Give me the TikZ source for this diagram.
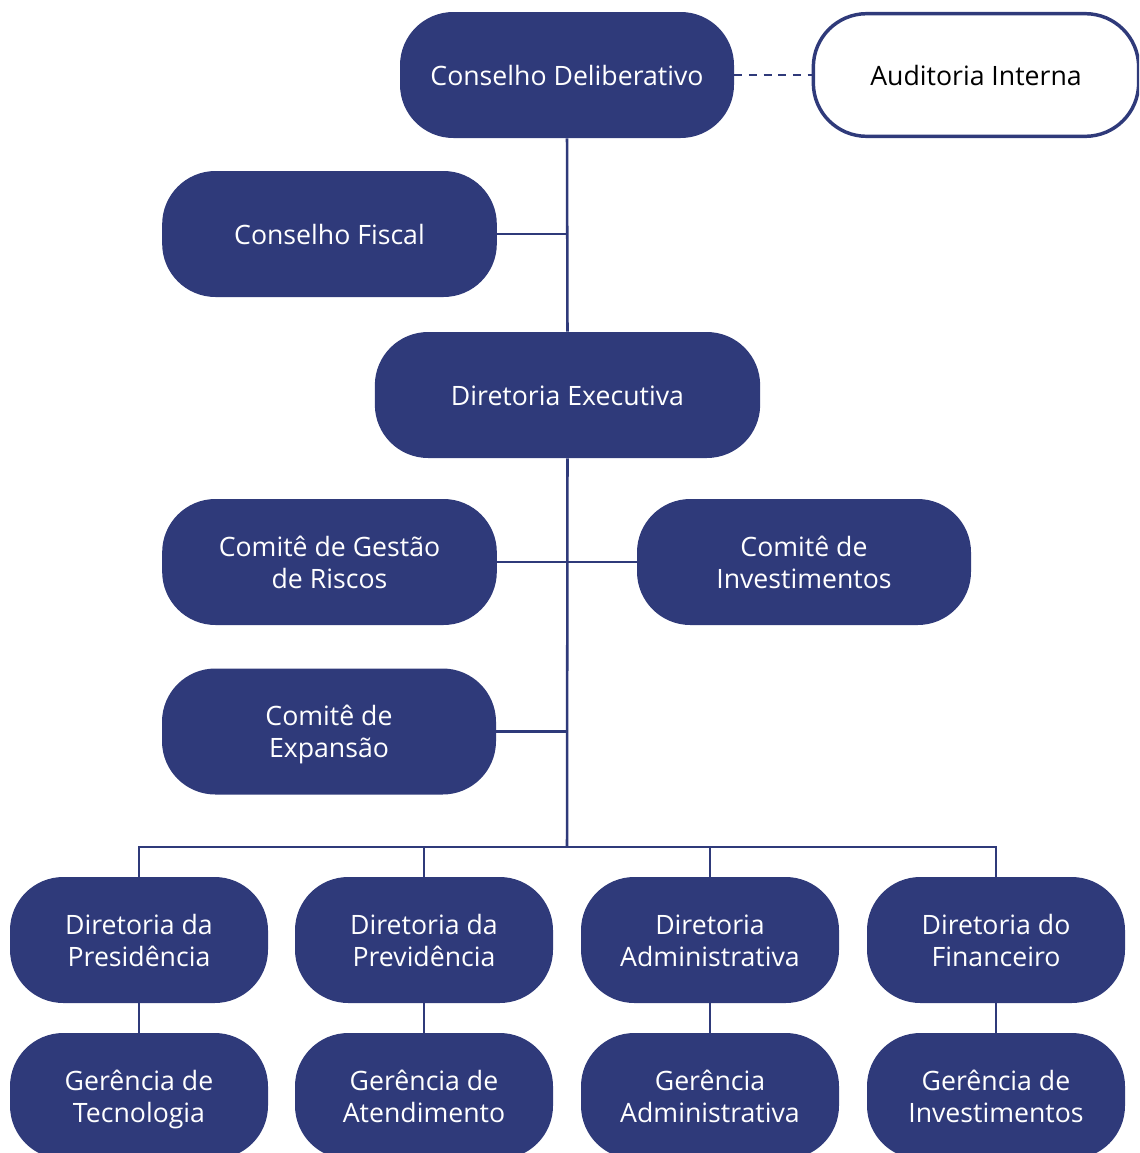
\documentclass[tikz,border=0pt]{standalone}
\usepackage{fontspec}
\setmainfont{Open Sans}
\definecolor{navy}{HTML}{2F3A7A}
\tikzset{
  boxtext/.style={font=\fontsize{20}{24}\selectfont,
    execute at begin node=\rule{0pt}{22.8pt}, execute at end node=\strut},
  twoline/.style={execute at begin node=\rule{0pt}{46.8pt}},
  orgbox/.style={boxtext, rounded corners=40pt, fill=navy, text=white, align=center,
    minimum height=94.5pt, inner sep=0pt},
  outlinebox/.style={boxtext, rounded corners=40pt, draw=navy, line width=2.6pt, fill=white,
    text=black, align=center, minimum height=92pt, inner sep=0pt},
  link/.style={draw=navy, line width=1.9pt},
  dottedlink/.style={draw=navy, line width=1.9pt, dash pattern=on 6pt off 5pt}
}
\begin{document}
\begin{tikzpicture}[x=0.75pt, y=-0.75pt]
  \clip (0,0) rectangle (1139,1153);
  \useasboundingbox (0,0) rectangle (1139,1153);

  % governance
  \node[orgbox, minimum width=250.5pt] (cd) at (567,75) {Conselho Deliberativo};
  \node[outlinebox, minimum width=244pt] (ai) at (976,75) {Auditoria Interna};
  \node[orgbox, minimum width=251pt] (cf) at (329.5,234) {Conselho Fiscal};
  \node[orgbox, minimum width=289pt] (de) at (567.5,395) {Diretoria Executiva};

  % committees
  \node[orgbox, twoline, minimum width=251pt] (cg) at (329.5,562) {Comitê de Gestão\\de Riscos};
  \node[orgbox, twoline, minimum width=250.5pt] (ci) at (804,562) {Comitê de\\Investimentos};
  \node[orgbox, twoline, minimum width=250.5pt] (ce) at (329,731.5) {Comitê de\\Expansão};

  % directorates
  \node[orgbox, twoline, minimum width=193.5pt] (d1) at (139,940) {Diretoria da\\Presidência};
  \node[orgbox, twoline, minimum width=193.5pt] (d2) at (424,940) {Diretoria da\\Previdência};
  \node[orgbox, twoline, minimum width=193.5pt] (d3) at (710,940) {Diretoria\\Administrativa};
  \node[orgbox, twoline, minimum width=193.5pt] (d4) at (996,940) {Diretoria do\\Financeiro};

  % managements
  \node[orgbox, twoline, minimum width=193.5pt] (g1) at (139,1096) {Gerência de\\Tecnologia};
  \node[orgbox, twoline, minimum width=193.5pt] (g2) at (424,1096) {Gerência de\\Atendimento};
  \node[orgbox, twoline, minimum width=193.5pt] (g3) at (710,1096) {Gerência\\Administrativa};
  \node[orgbox, twoline, minimum width=193.5pt] (g4) at (996,1096) {Gerência de\\Investimentos};

  % connectors
  \coordinate (bus) at (567,847);
  \draw[dottedlink] (cd.east) -- (ai.west);
  \draw[link] (cd.south) -- (de.north);
  \draw[link] (cf.east) -- (cf.east -| cd.south);
  \draw[link] (de.south) -- (bus);
  \draw[link] (cg.east) -- (ci.west);
  \draw[link] (ce.east) -- (ce.east -| de.south);
  \draw[link] (d1.north) |- (d4.north |- bus) -- (d4.north);
  \draw[link] (d2.north) -- (d2.north |- bus);
  \draw[link] (d3.north) -- (d3.north |- bus);
  \foreach \i in {1,2,3,4}
    \draw[link] (d\i.south) -- (g\i.north);
\end{tikzpicture}
\end{document}
